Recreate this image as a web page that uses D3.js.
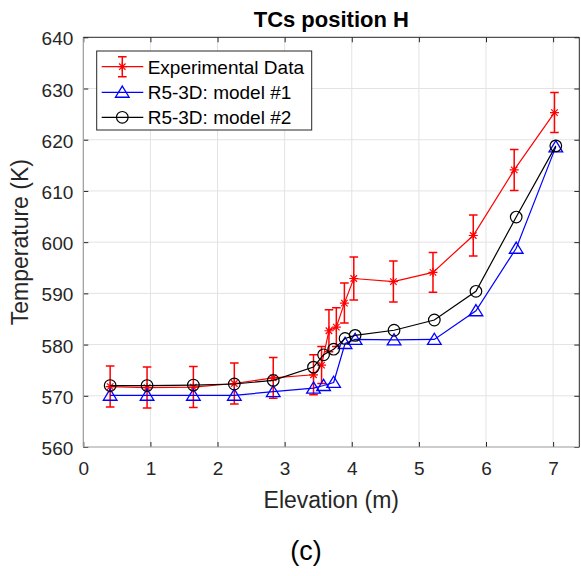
<!DOCTYPE html>
<html>
<head>
<meta charset="utf-8">
<script src="https://cdn.jsdelivr.net/npm/d3@7"></script>
<style>
  body { margin: 0; background: #fff; }
  svg { font-family: "Liberation Sans", Arial, sans-serif; }
</style>
</head>
<body>
<svg id="chart" width="581" height="576"></svg>
<script>
// experimental points (elevation m, temperature K, +/- error)
const expElev = [0.40, 0.95, 1.64, 2.25, 2.83, 3.43, 3.55, 3.66, 3.77, 3.89, 4.03, 4.62, 5.21, 5.81, 6.42, 7.02];
const expTemp = [571.8, 571.6, 571.7, 572.4, 573.5, 574.1, 576.0, 582.7, 583.4, 588.1, 592.9, 592.3, 594.1, 601.3, 614.1, 625.3];
const expErr  = [4.0, 4.0, 4.0, 4.0, 4.0, 3.9, 3.6, 4.1, 3.8, 3.9, 4.2, 4.0, 3.9, 4.0, 4.0, 3.9];

// model points
const modelElev = [0.40, 0.95, 1.64, 2.25, 2.83, 3.43, 3.58, 3.73, 3.90, 4.05, 4.63, 5.23, 5.85, 6.45, 7.04];
const model1 = [570.1, 570.1, 570.1, 570.1, 570.8, 571.5, 572.0, 572.6, 580.2, 581.0, 580.9, 581.0, 586.6, 598.8, 618.6];
const model2 = [572.0, 572.0, 572.1, 572.3, 573.0, 575.6, 578.0, 579.1, 581.2, 581.8, 582.8, 584.8, 590.4, 604.9, 618.8];

const xTicks = [0, 1, 2, 3, 4, 5, 6, 7];
const yTicks = [560, 570, 580, 590, 600, 610, 620, 630, 640];
const legendLabels = ['Experimental Data', 'R5-3D: model #1', 'R5-3D: model #2'];

const svg = d3.select('#chart');
const pLeft = 83.3, pRight = 579.3, pTop = 37.3, pBottom = 447;

const x = d3.scaleLinear().domain([0, 7.39]).range([pLeft, pRight]);
const y = d3.scaleLinear().domain([560, 640]).range([pBottom, pTop]);

// grid
svg.append('g').selectAll('line').data(xTicks.slice(1)).join('line')
  .attr('x1', d => x(d)).attr('x2', d => x(d)).attr('y1', pTop).attr('y2', pBottom)
  .attr('stroke', '#e3e3e3').attr('stroke-width', 1);
svg.append('g').selectAll('line').data(yTicks.slice(1, -1)).join('line')
  .attr('y1', d => y(d)).attr('y2', d => y(d)).attr('x1', pLeft).attr('x2', pRight)
  .attr('stroke', '#e3e3e3').attr('stroke-width', 1);

// axes (ticks point inward)
const xAxis = svg.append('g').attr('transform', `translate(0,${pBottom})`)
  .call(d3.axisBottom(x).tickValues(xTicks).tickSize(-5).tickPadding(15));
const yAxis = svg.append('g').attr('transform', `translate(${pLeft},0)`)
  .call(d3.axisLeft(y).tickValues(yTicks).tickSize(-5).tickPadding(10));
svg.append('g').attr('transform', `translate(0,${pTop})`)
  .call(d3.axisTop(x).tickValues(xTicks).tickSize(-5).tickFormat(''));
svg.append('g').attr('transform', `translate(${pRight},0)`)
  .call(d3.axisRight(y).tickValues(yTicks).tickSize(-5).tickFormat(''));

svg.selectAll('.domain').remove();
svg.selectAll('.tick line').attr('stroke', '#262626');
svg.selectAll('.tick text').attr('fill', '#262626').style('font-size', '19px')
  .style('font-family', '"Liberation Sans", Arial, sans-serif');
yAxis.selectAll('.tick text').attr('dy', '0.40em');

// box
svg.append('line').attr('x1', pLeft).attr('x2', pLeft).attr('y1', pTop).attr('y2', pBottom)
  .attr('stroke', '#9a9a9a').attr('stroke-width', 1.2);
svg.append('line').attr('x1', pLeft).attr('x2', pRight).attr('y1', pBottom).attr('y2', pBottom)
  .attr('stroke', '#9a9a9a').attr('stroke-width', 1.2);
svg.append('line').attr('x1', pLeft).attr('x2', pRight).attr('y1', pTop).attr('y2', pTop)
  .attr('stroke', '#262626').attr('stroke-width', 1);
svg.append('line').attr('x1', pRight).attr('x2', pRight).attr('y1', pTop).attr('y2', pBottom)
  .attr('stroke', '#262626').attr('stroke-width', 1);

// labels
svg.append('text').attr('x', (pLeft + pRight) / 2).attr('y', 27)
  .attr('text-anchor', 'middle').style('font-weight', 'bold').style('font-size', '22px')
  .text('TCs position H');
svg.append('text').attr('x', (pLeft + pRight) / 2).attr('y', 507.5)
  .attr('text-anchor', 'middle').style('font-size', '23px').attr('fill', '#262626')
  .text('Elevation (m)');
svg.append('text').attr('transform', `translate(28,${(pTop + pBottom) / 2}) rotate(-90)`)
  .attr('text-anchor', 'middle').style('font-size', '23px').attr('fill', '#262626')
  .text('Temperature (K)');
svg.append('text').attr('x', 306).attr('y', 560)
  .attr('text-anchor', 'middle').style('font-size', '27px')
  .text('(c)');

// markers
const starPath = s => `M${-s},0L${s},0M0,${-s}L0,${s}M${-s*0.72},${-s*0.72}L${s*0.72},${s*0.72}M${-s*0.72},${s*0.72}L${s*0.72},${-s*0.72}`;
const triPath = s => `M0,${-s}L${s*1.1},${s*0.8}L${-s*1.1},${s*0.8}Z`;

const line = d3.line().x(d => x(d[0])).y(d => y(d[1]));
const expData = expElev.map((e, i) => [e, expTemp[i], expErr[i]]);
const m1Data = modelElev.map((e, i) => [e, model1[i]]);
const m2Data = modelElev.map((e, i) => [e, model2[i]]);

// experimental: error bars + line + stars
const exp = svg.append('g');
exp.append('path').datum(expData).attr('d', line)
  .attr('fill', 'none').attr('stroke', '#ff0000').attr('stroke-width', 1.2);
exp.selectAll('.eb').data(expData).join('path')
  .attr('d', d => {
    const cx = x(d[0]), y1 = y(d[1] + d[2]), y2 = y(d[1] - d[2]), c = 4.3;
    return `M${cx},${y1}L${cx},${y2}M${cx - c},${y1}L${cx + c},${y1}M${cx - c},${y2}L${cx + c},${y2}`;
  })
  .attr('fill', 'none').attr('stroke', '#ff0000').attr('stroke-width', 1.5);
exp.selectAll('.st').data(expData).join('path')
  .attr('transform', d => `translate(${x(d[0])},${y(d[1])})`)
  .attr('d', starPath(4.5)).attr('fill', 'none').attr('stroke', '#ff0000').attr('stroke-width', 1.2);

// model #1
const g1 = svg.append('g');
g1.append('path').datum(m1Data).attr('d', line)
  .attr('fill', 'none').attr('stroke', '#0000ff').attr('stroke-width', 1.2);
g1.selectAll('.tr').data(m1Data).join('path')
  .attr('transform', d => `translate(${x(d[0])},${y(d[1])})`)
  .attr('d', triPath(6.2)).attr('fill', 'none').attr('stroke', '#0000ff').attr('stroke-width', 1.3);

// model #2
const g2 = svg.append('g');
g2.append('path').datum(m2Data).attr('d', line)
  .attr('fill', 'none').attr('stroke', '#000').attr('stroke-width', 1.2);
g2.selectAll('circle').data(m2Data).join('circle')
  .attr('cx', d => x(d[0])).attr('cy', d => y(d[1])).attr('r', 5.8)
  .attr('fill', 'none').attr('stroke', '#000').attr('stroke-width', 1.2);

// legend
const lg = svg.append('g');
lg.append('rect').attr('x', 96.7).attr('y', 51).attr('width', 215).attr('height', 79)
  .attr('fill', '#fff').attr('stroke', '#262626').attr('stroke-width', 1);
const rowY = [66.7, 92.3, 117.3];
const colors = ['#ff0000', '#0000ff', '#000000'];
legendLabels.forEach((lab, i) => {
  const ry = rowY[i];
  lg.append('line').attr('x1', 101.7).attr('x2', 143.3).attr('y1', ry).attr('y2', ry)
    .attr('stroke', colors[i]).attr('stroke-width', 1.2);
  const m = lg.append('g').attr('transform', `translate(122.3,${ry})`);
  if (i === 0) {
    m.append('path').attr('d', 'M0,-10L0,10M-4.3,-10L4.3,-10M-4.3,10L4.3,10')
      .attr('stroke', colors[i]).attr('stroke-width', 1.5).attr('fill', 'none');
    m.append('path').attr('d', starPath(4.5)).attr('stroke', colors[i]).attr('stroke-width', 1.2).attr('fill', 'none');
  } else if (i === 1) {
    m.append('path').attr('d', triPath(6.2)).attr('stroke', colors[i]).attr('stroke-width', 1.3).attr('fill', 'none');
  } else {
    m.append('circle').attr('r', 5.8).attr('stroke', colors[i]).attr('stroke-width', 1.2).attr('fill', 'none');
  }
  lg.append('text').attr('x', 147.7).attr('y', ry).attr('dy', '0.36em')
    .style('font-size', '19px').attr('fill', '#000').text(lab);
});
</script>
</body>
</html>
